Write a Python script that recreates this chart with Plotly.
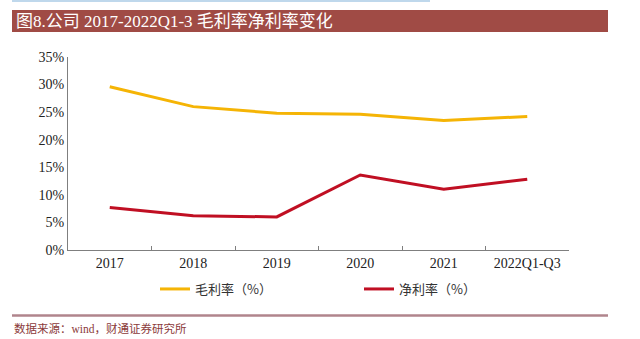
import plotly.graph_objects as go

categories = ["2017", "2018", "2019", "2020", "2021", "2022Q1-Q3"]
gross_margin = [29.6, 26.0, 24.8, 24.6, 23.5, 24.2]
net_margin = [7.7, 6.2, 6.0, 13.6, 11.0, 12.85]

SERIF = "Liberation Serif, Times New Roman, Noto Sans CJK SC, serif"

W, H = 640, 339
L, R, T, B = 68, 569, 57, 250  # plot area in pixels


def px(x):
    return (x - L) / (R - L)


def py(y):
    return (B - y) / (B - T)


fig = go.Figure()
fig.add_trace(go.Scatter(x=categories, y=gross_margin, mode="lines", name="毛利率（%）",
                         line=dict(color="#F5B405", width=3)))
fig.add_trace(go.Scatter(x=categories, y=net_margin, mode="lines", name="净利率（%）",
                         line=dict(color="#C00F23", width=3)))

fig.update_layout(
    width=W, height=H,
    margin=dict(l=L, r=W - R, t=T, b=H - B, autoexpand=False),
    paper_bgcolor="white", plot_bgcolor="white",
    font=dict(family=SERIF, size=14, color="#222222"),
    showlegend=True,
    legend=dict(orientation="h", xref="container", yref="container",
                x=155 / W, y=1 - 289 / H, xanchor="left", yanchor="middle",
                entrywidth=159, entrywidthmode="pixels", itemwidth=30,
                font=dict(family="Noto Sans CJK SC, serif", size=13, color="#333333"),
                bgcolor="rgba(0,0,0,0)", tracegroupgap=0),
    xaxis=dict(type="category", showline=True, linecolor="#7f7f7f", linewidth=1,
               ticks="inside", tickson="boundaries", ticklen=4, tickcolor="#7f7f7f",
               showgrid=False, zeroline=False, range=[-0.5, 5.5], automargin=False,
               tickfont=dict(family=SERIF, size=14, color="#222222")),
    yaxis=dict(range=[0, 35], dtick=5, ticksuffix="%", showline=True, linecolor="#7f7f7f",
               linewidth=1, showgrid=False, zeroline=False, ticks="", automargin=False,
               tickfont=dict(family=SERIF, size=14, color="#222222")),
    shapes=[
        dict(type="rect", xref="paper", yref="paper", x0=px(12), x1=px(608),
             y0=py(32), y1=py(10), fillcolor="#A04B45", line=dict(width=0), layer="below"),
        dict(type="line", xref="paper", yref="paper", x0=px(12), x1=px(430),
             y0=py(1), y1=py(1), line=dict(color="#BFD8EC", width=2)),
        dict(type="line", xref="paper", yref="paper", x0=px(12), x1=px(608),
             y0=py(315.5), y1=py(315.5), line=dict(color="#B0858C", width=2.5)),
    ],
    annotations=[
        dict(text="图8.公司 2017-2022Q1-3 毛利率净利率变化", xref="paper", yref="paper",
             x=px(14), y=py(21), xanchor="left", yanchor="middle", showarrow=False,
             font=dict(family=SERIF, size=17, color="white")),
        dict(text="数据来源：wind，财通证券研究所", xref="paper", yref="paper",
             x=px(12), y=py(328), xanchor="left", yanchor="middle", showarrow=False,
             font=dict(family=SERIF, size=11.5, color="#8B3A3A")),
    ],
)

fig.write_html("out.html")
